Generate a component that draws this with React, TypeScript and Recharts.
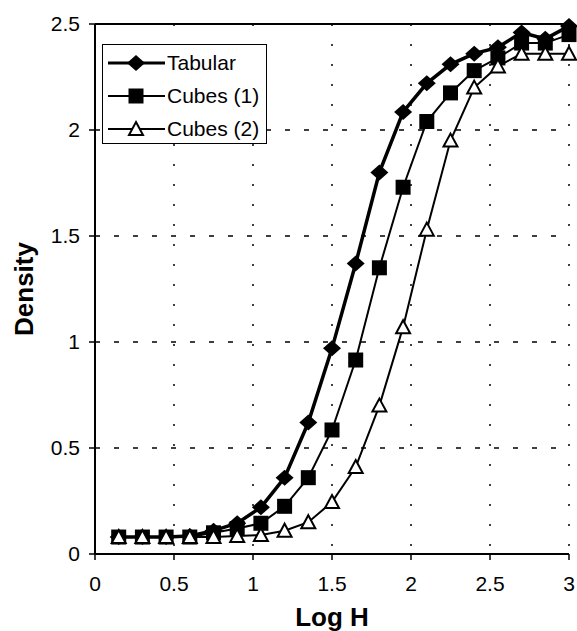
import React from "react";
import {
  LineChart,
  Line,
  XAxis,
  YAxis,
  CartesianGrid,
  Legend,
  ReferenceLine,
  Label,
} from "recharts";

const logH = [0.15, 0.3, 0.45, 0.6, 0.75, 0.9, 1.05, 1.2, 1.35, 1.5, 1.65, 1.8, 1.95, 2.1, 2.25, 2.4, 2.55, 2.7, 2.85, 3.0];
const tabular = [0.08, 0.08, 0.08, 0.085, 0.11, 0.145, 0.22, 0.36, 0.62, 0.97, 1.37, 1.8, 2.085, 2.22, 2.31, 2.36, 2.39, 2.46, 2.43, 2.49];
const cubes1 = [0.08, 0.08, 0.08, 0.08, 0.1, 0.12, 0.145, 0.225, 0.36, 0.585, 0.915, 1.35, 1.73, 2.04, 2.175, 2.28, 2.34, 2.41, 2.41, 2.45];
const cubes2 = [0.08, 0.08, 0.08, 0.08, 0.08, 0.085, 0.09, 0.11, 0.15, 0.245, 0.41, 0.7, 1.07, 1.53, 1.95, 2.2, 2.3, 2.36, 2.36, 2.36];
const xTicks = [0, 0.5, 1, 1.5, 2, 2.5, 3];
const yTicks = [0, 0.5, 1, 1.5, 2, 2.5];
const legendOrder = ["tabular", "cubes1", "cubes2"];

const data = logH.map((x, i) => ({
  x,
  tabular: tabular[i],
  cubes1: cubes1[i],
  cubes2: cubes2[i],
}));

const FONT = "'Liberation Sans', Arial, Helvetica, sans-serif";

function Diamond({ cx, cy }: { cx: number; cy: number }) {
  return <path d={`M${cx},${cy - 8} L${cx + 9},${cy} L${cx},${cy + 8} L${cx - 9},${cy} Z`} fill="#000" />;
}

function Square({ cx, cy }: { cx: number; cy: number }) {
  return <rect x={cx - 7.5} y={cy - 7.5} width={15} height={15} fill="#000" />;
}

function Triangle({ cx, cy }: { cx: number; cy: number }) {
  return (
    <path
      d={`M${cx},${cy - 7} L${cx + 7},${cy + 6} L${cx - 7},${cy + 6} Z`}
      fill="#fff"
      stroke="#000"
      strokeWidth={2}
      strokeLinejoin="miter"
    />
  );
}

const markers: Record<string, (p: { cx: number; cy: number }) => React.ReactElement> = {
  tabular: Diamond,
  cubes1: Square,
  cubes2: Triangle,
};

const lineWidths: Record<string, number> = { tabular: 3, cubes1: 2, cubes2: 2 };

function LegendBox({ payload }: any) {
  const items = [...(payload || [])].sort(
    (a: any, b: any) => legendOrder.indexOf(a.dataKey) - legendOrder.indexOf(b.dataKey)
  );
  return (
    <div
      style={{
        width: 165,
        height: 100,
        boxSizing: "border-box",
        border: "1.5px solid #000",
        background: "#fff",
        paddingTop: 1,
        fontFamily: FONT,
        fontSize: 21,
      }}
    >
      {items.map((entry: any) => {
        const M = markers[entry.dataKey];
        return (
          <div key={entry.dataKey} style={{ display: "flex", alignItems: "center", height: 33 }}>
            <svg width={64} height={20} style={{ flex: "none" }}>
              <line x1={5} x2={62} y1={10} y2={10} stroke="#000" strokeWidth={lineWidths[entry.dataKey]} />
              <M cx={33} cy={10} />
            </svg>
            <span style={{ color: "#000", whiteSpace: "nowrap" }}>{entry.value}</span>
          </div>
        );
      })}
    </div>
  );
}

export default function App() {
  const tick = { fontSize: 21, fontFamily: FONT, fill: "#000" };
  return (
    <div style={{ position: "absolute", left: 0, top: 0, width: 577, height: 631, background: "#fff" }}>
      <LineChart width={577} height={631} data={data} margin={{ top: 24, right: 8, left: 35, bottom: 0 }}>
        <CartesianGrid vertical={false} stroke="#000" strokeWidth={1.5} strokeDasharray="5 14" />
        <CartesianGrid horizontal={false} stroke="#000" strokeWidth={1.5} strokeDasharray="2 18" />
        <XAxis
          dataKey="x"
          type="number"
          domain={[0, 3]}
          ticks={xTicks}
          height={77}
          tick={tick}
          tickSize={6}
          tickMargin={16}
          axisLine={{ stroke: "#000", strokeWidth: 2 }}
          tickLine={{ stroke: "#000", strokeWidth: 1.5 }}
        >
          <Label
            content={({ viewBox }: any) => (
              <text
                x={viewBox.x + viewBox.width / 2}
                y={viewBox.y + 63}
                textAnchor="middle"
                dominantBaseline="central"
                fontFamily={FONT}
                fontWeight="bold"
                fontSize={26}
                fill="#000"
              >
                Log H
              </text>
            )}
          />
        </XAxis>
        <YAxis
          type="number"
          domain={[0, 2.5]}
          ticks={yTicks}
          width={60}
          tick={tick}
          tickSize={6}
          tickMargin={9}
          axisLine={{ stroke: "#000", strokeWidth: 2 }}
          tickLine={{ stroke: "#000", strokeWidth: 1.5 }}
        >
          <Label
            content={({ viewBox }: any) => {
              const cx = viewBox.x - 11;
              const cy = viewBox.y + viewBox.height / 2;
              return (
                <text
                  x={cx}
                  y={cy}
                  transform={`rotate(-90 ${cx} ${cy})`}
                  textAnchor="middle"
                  dominantBaseline="central"
                  fontFamily={FONT}
                  fontWeight="bold"
                  fontSize={26}
                  fill="#000"
                >
                  Density
                </text>
              );
            }}
          />
        </YAxis>
        <ReferenceLine y={2.5} stroke="#000" strokeWidth={2} />
        <Legend
          layout="vertical"
          align="center"
          verticalAlign="middle"
          wrapperStyle={{ left: 102, top: 44, width: 165, height: 100 }}
          content={<LegendBox />}
        />
        <Line
          type="linear"
          dataKey="tabular"
          name="Tabular"
          stroke="#000"
          strokeWidth={3.5}
          dot={(p: any) => <Diamond key={`d${p.index}`} cx={p.cx} cy={p.cy} />}
          isAnimationActive={false}
        />
        <Line
          type="linear"
          dataKey="cubes1"
          name="Cubes (1)"
          stroke="#000"
          strokeWidth={2}
          dot={(p: any) => <Square key={`s${p.index}`} cx={p.cx} cy={p.cy} />}
          isAnimationActive={false}
        />
        <Line
          type="linear"
          dataKey="cubes2"
          name="Cubes (2)"
          stroke="#000"
          strokeWidth={2}
          dot={(p: any) => <Triangle key={`t${p.index}`} cx={p.cx} cy={p.cy} />}
          isAnimationActive={false}
        />
      </LineChart>
    </div>
  );
}
